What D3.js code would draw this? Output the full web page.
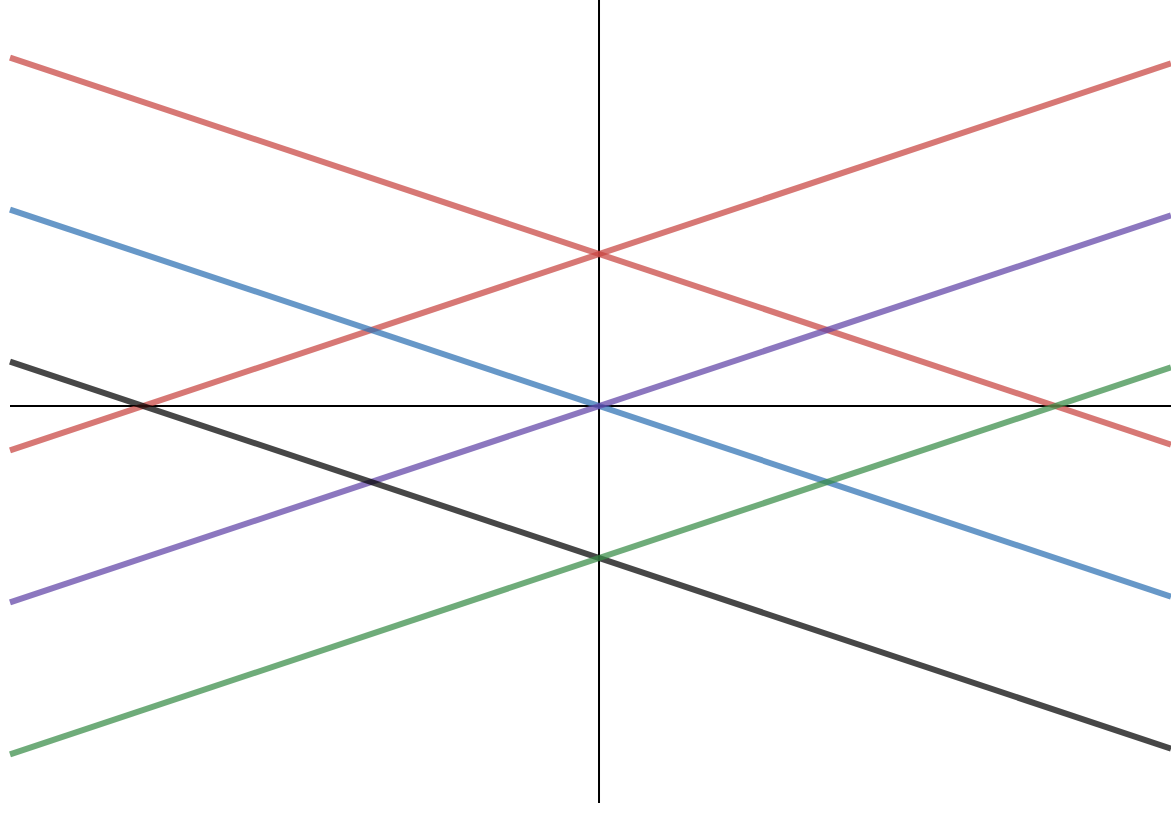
<!DOCTYPE html>
<html>
<head>
<meta charset="utf-8">
<script src="https://cdn.jsdelivr.net/npm/d3@7/dist/d3.min.js"></script>
<style>
  html, body { margin: 0; padding: 0; background: #ffffff; }
  svg { display: block; }
</style>
</head>
<body>
<svg id="chart" width="1171" height="814"></svg>
<script>
// Data: endpoints of each line (x at left and right edges of the view)
const xEnds = [-3.875, 3.763];
const seriesNames = ["redDown", "redUp", "blue", "purple", "black", "green"];
const redDown = [2.292, -0.254];
const redUp   = [-0.292, 2.254];
const blue    = [1.292, -1.254];
const purple  = [-1.292, 1.254];
const black   = [0.292, -2.254];
const green   = [-2.292, 0.254];
const seriesValues = [redDown, redUp, blue, purple, black, green];
const seriesColors = ["#c74440", "#c74440", "#2d70b3", "#6042a6", "#000000", "#388c46"];

const W = 1171, H = 814;
const svg = d3.select("#chart");

const x = d3.scaleLinear().domain([-3.875, 3.763]).range([10, 1171]);
const y = d3.scaleLinear().domain([2.671, -2.684]).range([0, 814]);

// Axes
svg.append("line")
  .attr("x1", x(-3.875)).attr("x2", x(3.763))
  .attr("y1", y(0)).attr("y2", y(0))
  .attr("stroke", "#000").attr("stroke-width", 2);
svg.append("line")
  .attr("x1", x(0)).attr("x2", x(0))
  .attr("y1", y(2.671)).attr("y2", y(-2.612))
  .attr("stroke", "#000").attr("stroke-width", 2);

const line = d3.line().x(d => x(d[0])).y(d => y(d[1]));

seriesValues.forEach((vals, i) => {
  const pts = xEnds.map((xv, j) => [xv, vals[j]]);
  svg.append("path")
    .datum(pts)
    .attr("class", "series " + seriesNames[i])
    .attr("d", line)
    .attr("fill", "none")
    .attr("stroke", seriesColors[i])
    .attr("stroke-opacity", 0.72)
    .attr("stroke-width", 6);
});
</script>
</body>
</html>
